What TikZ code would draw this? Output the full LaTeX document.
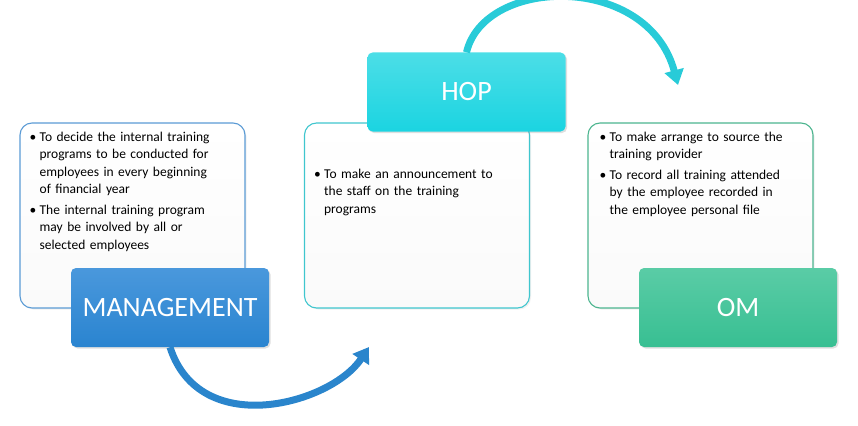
\documentclass[tikz,border=0pt]{standalone}
\usepackage{fontspec}
\setmainfont{Carlito}
\usetikzlibrary{arrows.meta, shadows}
\definecolor{mgmtblue}{HTML}{2A84D0}
\definecolor{mgmttop}{HTML}{4A98DC}
\definecolor{hopcyan}{HTML}{1BD4E1}
\definecolor{hoptop}{HTML}{4CDEE7}
\definecolor{omgreen}{HTML}{38BF92}
\definecolor{omtop}{HTML}{5ACCA6}
\definecolor{boxgray}{HTML}{FAFAFA}
\definecolor{mgmtline}{HTML}{5B9BD5}
\definecolor{hopline}{HTML}{3FC6CE}
\definecolor{omline}{HTML}{4CB58F}
\definecolor{arrowblue}{HTML}{2A85CC}
\definecolor{arrowcyan}{HTML}{28CBD8}
\newcommand{\bulitem}[1]{\hangindent=10pt\hangafter=1\noindent\makebox[10pt][l]{\textbullet}#1\par}

\begin{document}
\begin{tikzpicture}[
    x=1pt, y=-1pt,
    txtbox/.style={
        rounded corners=12pt, line width=1.1pt,
        minimum width=225pt, minimum height=185pt,
        top color=white, bottom color=boxgray,
        drop shadow={opacity=0.12, shadow xshift=1.5pt, shadow yshift=-1.5pt},
    },
    labelbox/.style={
        rounded corners=5pt, text=white,
        minimum width=198pt, minimum height=79pt,
        font=\fontsize{28}{32}\selectfont,
        drop shadow={opacity=0.25, shadow xshift=1.5pt, shadow yshift=-1.5pt},
    },
    bodytext/.style={
        anchor=north west, inner sep=0pt, align=left,
        font=\fontsize{13.5}{17.5}\selectfont,
    },
    flowarrow/.style={
        line width=7pt,
        -{Triangle[length=15pt, width=19pt]},
    },
]
\useasboundingbox (0,0) rectangle (858,425);

% =============================================
% TEXT BOXES
% =============================================
\node[txtbox, draw=mgmtline] (mgmtbox) at (132.5,215.5) {};
\node[txtbox, draw=hopline]  (hopbox)  at (417,215.5) {};
\node[txtbox, draw=omline]   (ombox)   at (700.5,215.5) {};

% Box texts
\node[bodytext, text width=210pt] (mgmttxt) at ([shift={(10,9)}]mgmtbox.north west) {%
  \bulitem{To decide the internal training\newline programs to be conducted for\newline employees in every beginning\newline of financial year}\vspace{3pt}
  \bulitem{The internal training program\newline may be involved by all or\newline selected employees}%
};
\node[bodytext, text width=210pt] (hoptxt) at ([shift={(10,46)}]hopbox.north west) {%
  \bulitem{To make an announcement to\newline the staff on the training\newline programs}%
};
\node[bodytext, text width=210pt] (omtxt) at ([shift={(12,9)}]ombox.north west) {%
  \bulitem{To make arrange to source the\newline training provider}\vspace{3pt}
  \bulitem{To record all training attended\newline by the employee recorded in\newline the employee personal file}%
};

% =============================================
% LABEL BOXES
% =============================================
\node[labelbox, top color=mgmttop, bottom color=mgmtblue] (mgmt) at (170,307.5) {MANAGEMENT};
\node[labelbox, top color=hoptop, bottom color=hopcyan]   (hop)  at (466.5,92) {HOP};
\node[labelbox, top color=omtop, bottom color=omgreen]    (om)   at (738,307.5) {OM};

% =============================================
% ARROWS
% =============================================
\coordinate (hoptip) at (369,347);
\coordinate (omtip) at (678,85);

\draw[flowarrow, arrowblue]
    (mgmt.south) .. controls +(30,93) and +(-38,57) .. (hoptip);
\draw[flowarrow, arrowcyan]
    (hop.north) .. controls +(18,-76) and +(-30,-112) .. (omtip);

\end{tikzpicture}
\end{document}
